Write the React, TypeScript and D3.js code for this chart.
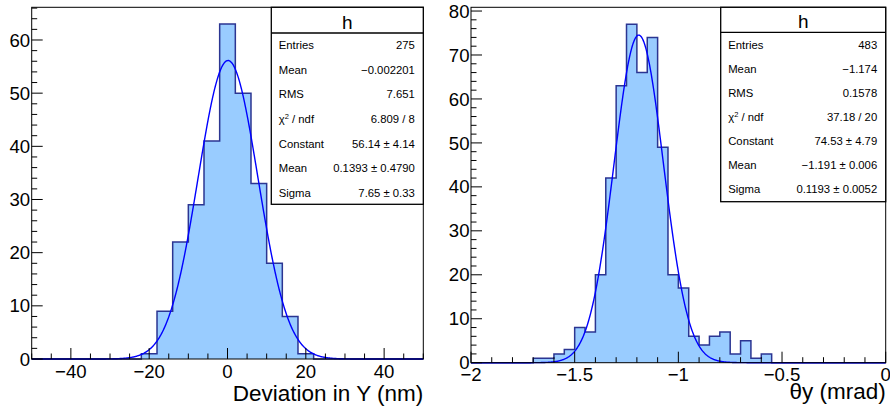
import React from 'react';
import * as d3 from 'd3';

// ---------- data ----------
// Left histogram: 25 bins of width 4 from -50 to 50
const leftCounts = [0, 0, 0, 0, 0, 0, 0, 1, 9, 22, 29, 41, 63, 50, 33, 18, 8, 1, 0, 0, 0, 0, 0, 0, 0];
const leftXDomain = [-50, 50];
const leftXMajor = [-40, -20, 0, 20, 40];
const leftXMinorStep = 5;
const leftYMajor = [0, 10, 20, 30, 40, 50, 60];
const leftYMinorStep = 2;
const leftFitParams = [56.14, 0.1393, 7.65]; // constant, mean, sigma
const leftTitle = 'Deviation in Y (nm)';
const leftStatValues = ['275', '\u22120.002201', '7.651', '6.809 / 8', '56.14 \u00b1 4.14', '0.1393 \u00b1 0.4790', '7.65 \u00b1 0.33'];

// Right histogram: 40 bins of width 0.05 from -2 to 0
const rightCounts = [0, 0, 0, 0, 0, 0, 1, 1, 2, 3, 8, 7, 20, 42, 63, 77, 66, 74, 49, 20, 17, 6, 4, 6, 7, 2, 5, 1, 2, 0, 0, 0, 0, 0, 0, 0, 0, 0, 0, 0];
const rightXDomain = [-2, 0];
const rightXMajor = [-2, -1.5, -1, -0.5, 0];
const rightXMinorStep = 0.1;
const rightYMajor = [0, 10, 20, 30, 40, 50, 60, 70, 80];
const rightYMinorStep = 2;
const rightFitParams = [74.53, -1.191, 0.1193];
const rightTitle = '\u03b8y (mrad)';
const rightStatValues = ['483', '\u22121.174', '0.1578', '37.18 / 20', '74.53 \u00b1 4.79', '\u22121.191 \u00b1 0.006', '0.1193 \u00b1 0.0052'];

const statLabels = ['Entries', 'Mean', 'RMS', 'CHI2', 'Constant', 'Mean', 'Sigma'];
const histName = 'h';

// ---------- styling ----------
const FONT = "'Liberation Sans', Arial, Helvetica, sans-serif";
const FILL = '#99ccff';
const LINE = '#2b3592';
const FIT = '#0000ff';

const fmt = (v: number) => {
  const s = d3.format('~g')(v);
  return s.replace('-', '\u2212');
};

type PanelProps = {
  counts: number[];
  xDomain: number[];
  xMajor: number[];
  xMinorStep: number;
  yMajor: number[];
  yMinorStep: number;
  fit: number[];
  title: string;
  statValues: string[];
  frame: { l: number; r: number; t: number; b: number };
  box: { l: number; b: number; sep: number; row0: number; rowStep: number };
  titleBaseline: number;
};

function Panel(p: PanelProps) {
  const { frame } = p;
  const maxC = d3.max(p.counts) as number;
  const yMax = maxC * 1.05;
  const x = d3.scaleLinear().domain(p.xDomain).range([frame.l, frame.r]);
  const y = d3.scaleLinear().domain([0, yMax]).range([frame.b, frame.t]);
  const n = p.counts.length;
  const bw = (p.xDomain[1] - p.xDomain[0]) / n;

  // histogram step outline
  const pts: [number, number][] = [[p.xDomain[0], 0]];
  p.counts.forEach((c, i) => {
    const x0 = p.xDomain[0] + i * bw;
    pts.push([x0, c]);
    pts.push([x0 + bw, c]);
  });
  pts.push([p.xDomain[1], 0]);
  const line = d3.line<[number, number]>().x((d) => x(d[0])).y((d) => y(d[1]));
  const area = d3
    .area<[number, number]>()
    .x((d) => x(d[0]))
    .y0(y(0))
    .y1((d) => y(d[1]));

  // Gaussian fit from fitted parameters
  const [A, mu, sg] = p.fit;
  const xs = d3.range(0, 801).map((i) => p.xDomain[0] + ((p.xDomain[1] - p.xDomain[0]) * i) / 800);
  const fitPts: [number, number][] = xs.map((v) => [v, A * Math.exp(-0.5 * ((v - mu) / sg) ** 2)]);

  const eps = 1e-9;
  const xMinor = d3
    .range(Math.ceil(p.xDomain[0] / p.xMinorStep - eps), Math.floor(p.xDomain[1] / p.xMinorStep + eps) + 1)
    .map((k) => k * p.xMinorStep)
    .filter((v) => !p.xMajor.some((m) => Math.abs(m - v) < 1e-6));
  const yMinor = d3
    .range(0, Math.floor(yMax / p.yMinorStep) + 1)
    .map((k) => k * p.yMinorStep)
    .filter((v) => !p.yMajor.some((m) => Math.abs(m - v) < 1e-6));

  const majorLen = 11;
  const minorLen = 5.5;
  const { box } = p;
  const boxR = frame.r;
  const boxT = frame.t;

  return (
    <g>
      <path d={area(pts) || ''} fill={FILL} stroke="none" />
      <path d={line(pts) || ''} fill="none" stroke={LINE} strokeWidth={1.5} />
      <path d={line(fitPts) || ''} fill="none" stroke={FIT} strokeWidth={1.4} />
      {/* frame */}
      <rect x={frame.l} y={frame.t} width={frame.r - frame.l} height={frame.b - frame.t} fill="none" stroke="#000" strokeWidth={1} />
      {/* x ticks */}
      {p.xMajor.map((v) => (
        <line key={'xm' + v} x1={x(v)} x2={x(v)} y1={frame.b} y2={frame.b - majorLen} stroke="#000" strokeWidth={1} />
      ))}
      {xMinor.map((v) => (
        <line key={'xn' + v} x1={x(v)} x2={x(v)} y1={frame.b} y2={frame.b - minorLen} stroke="#000" strokeWidth={1} />
      ))}
      {/* y ticks */}
      {p.yMajor.map((v) => (
        <line key={'ym' + v} x1={frame.l} x2={frame.l + majorLen} y1={y(v)} y2={y(v)} stroke="#000" strokeWidth={1} />
      ))}
      {yMinor.map((v) => (
        <line key={'yn' + v} x1={frame.l} x2={frame.l + minorLen} y1={y(v)} y2={y(v)} stroke="#000" strokeWidth={1} />
      ))}
      {/* tick labels */}
      {p.xMajor.map((v) => (
        <text key={'xl' + v} x={x(v)} y={frame.b + 18.5} textAnchor="middle" fontFamily={FONT} fontSize={18.6} fill="#000">
          {fmt(v)}
        </text>
      ))}
      {p.yMajor.map((v) => (
        <text key={'yl' + v} x={frame.l - 1.5} y={y(v) + 6.6} textAnchor="end" fontFamily={FONT} fontSize={18.6} fill="#000">
          {fmt(v)}
        </text>
      ))}
      {/* axis title */}
      <text x={frame.r} y={p.titleBaseline} textAnchor="end" fontFamily={FONT} fontSize={22.5} fill="#000">
        {p.title}
      </text>
      {/* stat box */}
      <rect x={box.l} y={boxT} width={boxR - box.l} height={box.b - boxT} fill="#fff" stroke="#000" strokeWidth={1.3} />
      <line x1={box.l} x2={boxR} y1={box.sep} y2={box.sep} stroke="#000" strokeWidth={1.3} />
      <text x={(box.l + boxR) / 2} y={box.sep - 4.5} textAnchor="middle" fontFamily={FONT} fontSize={19} fill="#000">
        {histName}
      </text>
      {statLabels.map((lab, i) => (
        <text key={'sl' + i} x={box.l + 7.5} y={box.row0 + i * box.rowStep} fontFamily={FONT} fontSize={11.3} fill="#000">
          {lab === 'CHI2' ? (
            <>
              {'\u03c7'}
              <tspan dy={-4} fontSize={7.5}>2</tspan>
              <tspan dy={4}>{' / ndf'}</tspan>
            </>
          ) : (
            lab
          )}
        </text>
      ))}
      {p.statValues.map((v, i) => (
        <text key={'sv' + i} x={boxR - 8.5} y={box.row0 + i * box.rowStep} textAnchor="end" fontFamily={FONT} fontSize={11.3} fill="#000">
          {v}
        </text>
      ))}
    </g>
  );
}

export default function App() {
  return (
    <svg width={890} height={408} style={{ position: 'absolute', left: 0, top: 0, background: '#fff' }}>
      <rect x={0} y={0} width={890} height={408} fill="#fff" />
      <Panel
        counts={leftCounts}
        xDomain={leftXDomain}
        xMajor={leftXMajor}
        xMinorStep={leftXMinorStep}
        yMajor={leftYMajor}
        yMinorStep={leftYMinorStep}
        fit={leftFitParams}
        title={leftTitle}
        statValues={leftStatValues}
        frame={{ l: 31.7, r: 423.3, t: 7.3, b: 359 }}
        box={{ l: 271.3, b: 204.3, sep: 33, row0: 49.3, rowStep: 24.55 }}
        titleBaseline={401}
      />
      <Panel
        counts={rightCounts}
        xDomain={rightXDomain}
        xMajor={rightXMajor}
        xMinorStep={rightXMinorStep}
        yMajor={rightYMajor}
        yMinorStep={rightYMinorStep}
        fit={rightFitParams}
        title={rightTitle}
        statValues={rightStatValues}
        frame={{ l: 471, r: 885.7, t: 7.3, b: 362.7 }}
        box={{ l: 720.7, b: 201.7, sep: 32.3, row0: 49.3, rowStep: 24 }}
        titleBaseline={399}
      />
    </svg>
  );
}
